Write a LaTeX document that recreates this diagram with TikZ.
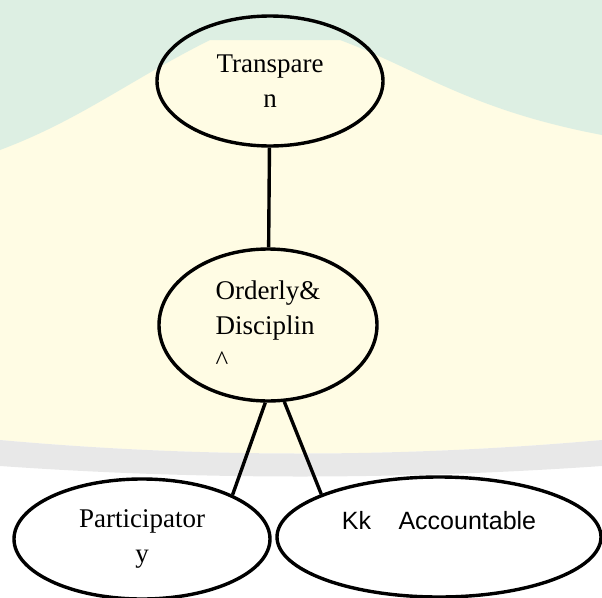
\documentclass[tikz,border=0pt]{standalone}
\usepackage{fontspec}
\setmainfont{Liberation Serif}
\setsansfont{Liberation Sans}
\usepackage{xcolor}
\usepackage{tikz}
\usetikzlibrary{shapes.geometric,positioning,calc}
\definecolor{wmgreen}{HTML}{DDEFE3}
\definecolor{wmyellow}{HTML}{FFFCE4}
\definecolor{wmgrey}{HTML}{E8E8E8}

\begin{document}
\begin{tikzpicture}[
  x=1pt, y=-1pt,
  font=\fontsize{27}{35}\selectfont, every node/.style={align=center},
  bubble/.style={ellipse,draw=black,line width=3.4pt,inner sep=0pt},
  link/.style={line width=3.4pt,black}
]
\useasboundingbox (0,0) rectangle (602,597);
% faint watermark behind the chart
\fill[wmyellow] (0,0) -- (602,0) -- (602,440) .. controls (400,458) and (200,458) .. (0,440) -- cycle;
\fill[wmgreen] (0,0) -- (602,0) -- (602,135) .. controls (470,110) and (420,70) .. (340,40)
  -- (210,40) .. controls (130,80) and (80,120) .. (0,150) -- cycle;
\fill[wmgrey] (0,440) .. controls (200,458) and (400,458) .. (602,440) -- (602,466)
  .. controls (400,480) and (200,480) .. (0,466) -- cycle;

\node[bubble,minimum width=226,minimum height=130] (transp) at (270,81) {Transpare\\n};
\node[bubble,minimum width=218,minimum height=152,align=left] (order) at (268,325)
  {Orderly\&\\Disciplin\\\textasciicircum};
\node[bubble,minimum width=256,minimum height=120] (partic) at (142,539) {Participator\\y};
\node[bubble,minimum width=324,minimum height=120,font=\fontsize{25}{34}\sffamily] (account) at (439,537)
  {Kk\hspace{1.1em}Accountable\\\mbox{}};

\draw[link] (transp) -- (order);
\draw[link] (order.-92) -- (partic.26);
\draw[link] (order.-78) -- (account.160);
\end{tikzpicture}
\end{document}
